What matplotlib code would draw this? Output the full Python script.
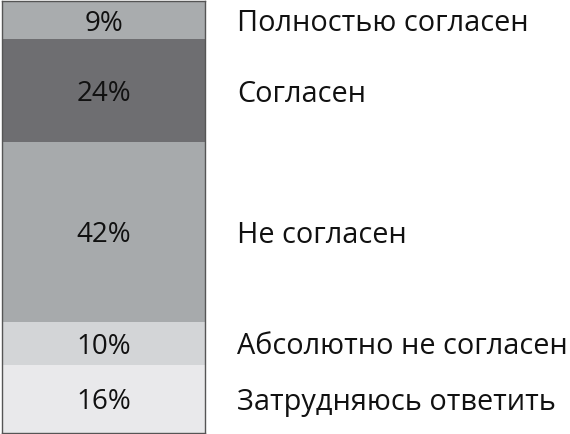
import matplotlib
matplotlib.use("Agg")
import matplotlib.pyplot as plt

answers = ["Полностью согласен", "Согласен", "Не согласен",
           "Абсолютно не согласен", "Затрудняюсь ответить"]
shares = [9, 24, 42, 10, 16]
colors = ["#a9acae", "#6e6e71", "#a7aaac", "#d3d5d7", "#e9e9eb"]

plt.rcParams['font.family'] = ['Open Sans', 'DejaVu Sans']

fig = plt.figure(figsize=(5.7, 4.34), dpi=100)
ax = fig.add_axes([2 / 570, 1 / 434, 203 / 570, 432 / 434])

total = sum(shares)
top = total
for name, val, col in zip(answers, shares, colors):
    bottom = top - val
    ax.bar(0, val, bottom=bottom, width=1, color=col, edgecolor="none")
    mid = bottom + val / 2
    ax.text(0, mid, f"{val}%", ha="center", va="center_baseline", fontsize=20,
            color="#111111")
    ax.text(0.66, mid, name, ha="left", va="center_baseline", fontsize=20.8,
            color="#111111", clip_on=False)
    top = bottom

ax.set_xlim(-0.5, 0.5)
ax.set_ylim(0, total)
ax.set_xticks([])
ax.set_yticks([])
for s in ax.spines.values():
    s.set_color("#555555")
    s.set_linewidth(1)

fig.savefig("out.png", dpi=100)
